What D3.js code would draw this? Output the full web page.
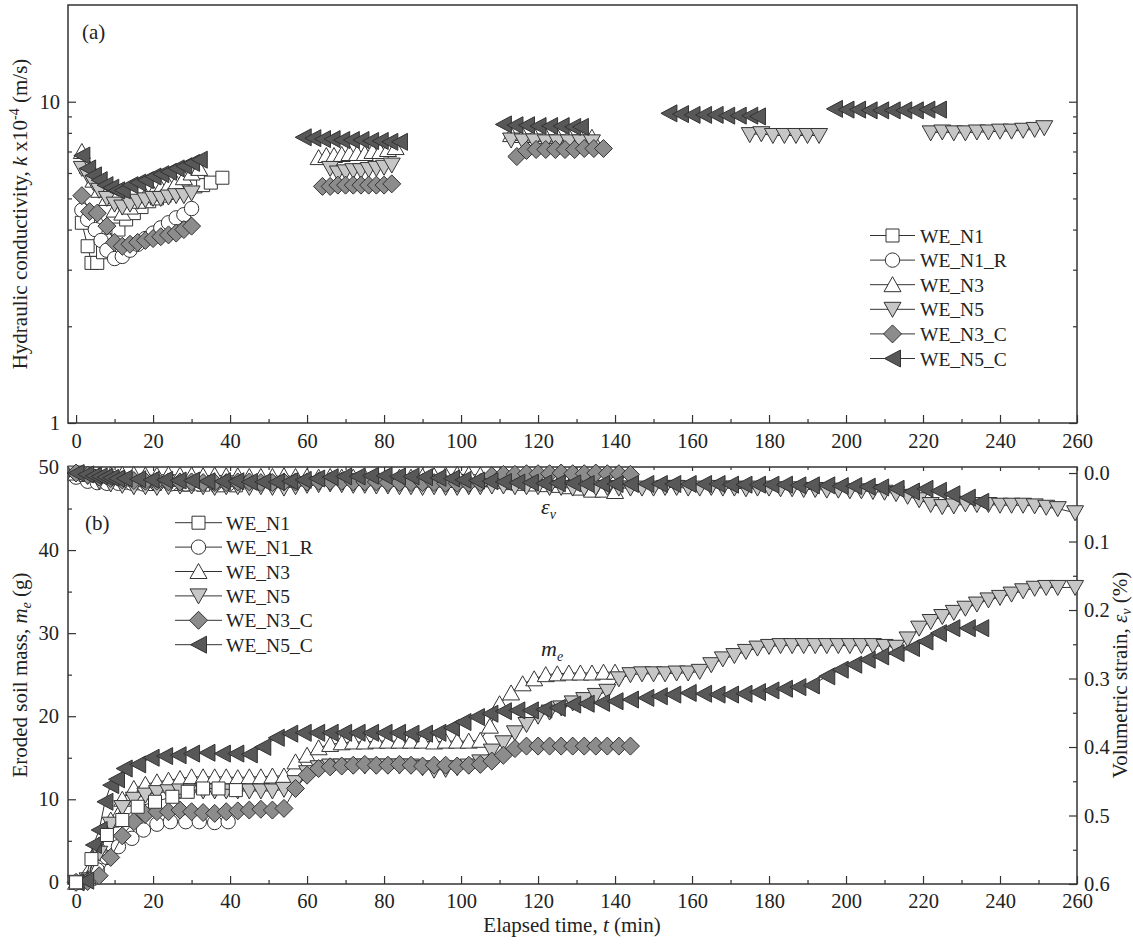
<!DOCTYPE html>
<html><head><meta charset="utf-8">
<script src="https://cdn.jsdelivr.net/npm/d3@7"></script>
<style>
body{margin:0;background:#fff}
svg{display:block}
text{font-family:"Liberation Serif","Times New Roman",serif;fill:#222}
</style>
</head><body>
<script>
// ---------------- DATA ----------------
const seriesNames = ["WE_N1","WE_N1_R","WE_N3","WE_N5","WE_N3_C","WE_N5_C"];
const xTickValues = [0,20,40,60,80,100,120,140,160,180,200,220,240,260];
const kTickLabels = [1,10];
const mTickValues = [0,10,20,30,40,50];
const eTickValues = [0,0.1,0.2,0.3,0.4,0.5,0.6];

// (a) hydraulic conductivity, k x10^-4 m/s
const kN1_t  = [1.5,3,4,5.5,7,9,11,13,15,17,19,21,23,25,27,29,31,33,35,38];
const kN1_v  = [4.2,3.55,3.15,3.15,3.4,3.7,4.0,4.3,4.5,4.7,4.9,5.0,5.1,5.2,5.3,5.4,5.45,5.5,5.6,5.8];
const kN1R_t = [1.5,3,5,6.5,8,10,12,14,16,18,20,22,24,26,28,30];
const kN1R_v = [4.6,4.3,4.0,3.7,3.45,3.25,3.3,3.45,3.6,3.75,3.9,4.05,4.2,4.35,4.45,4.65];
const kN3_t  = [1.5,3,4.5,6,8,10,12,14,16,18,20,22,24,26,28,30,32, 63,65,67,69,71,73,75,77,79,81,83, 113,116,119,122,125,128,131,134];
const kN3_v  = [7.0,6.3,5.7,5.3,5.0,4.6,4.5,4.7,4.9,5.1,5.2,5.4,5.5,5.6,5.8,6.0,6.2, 6.7,6.8,6.8,6.85,6.9,6.9,6.9,7.0,7.0,7.1,7.2, 7.9,7.85,7.85,7.8,7.8,7.8,7.75,7.75];
const kN5_t  = [1.5,3,4.5,6,8,10,12,14,16,18,20,22,24,26,28,30, 66,68,70,72,74,76,78,80,82, 113,116,119,122,125,128,131,134, 175,178,181,184,187,190,193, 222,225,228,231,234,237,240,243,246,249,251.5];
const kN5_v  = [6.2,5.9,5.6,5.3,5.0,4.8,4.7,4.8,4.9,4.95,5.0,5.0,5.05,5.1,5.1,5.2, 6.2,6.0,6.05,6.1,6.1,6.15,6.2,6.25,6.35, 7.6,7.55,7.55,7.5,7.5,7.5,7.5,7.5, 7.9,7.95,7.85,7.85,7.85,7.85,7.85, 8.0,8.05,8.0,8.0,8.05,8.05,8.1,8.1,8.15,8.2,8.3];
const kN3C_t = [1.5,3.5,5.5,8,10,12,14,16,18,20,22,24,26,28,30, 64,66,68,70,72,74,76,78,80,82, 114.5,117,119.5,122,124.5,127,129.5,132,134.5,137];
const kN3C_v = [5.1,4.55,4.5,4.1,3.65,3.55,3.6,3.65,3.7,3.75,3.8,3.85,3.9,4.0,4.1, 5.45,5.45,5.5,5.5,5.5,5.5,5.5,5.5,5.5,5.55, 6.75,7.05,7.1,7.1,7.1,7.1,7.1,7.15,7.15,7.15];
const kN5C_t = [1.5,3,4.5,6,7.5,9,10.5,12,14,16,18,20,22,24,26,28,30,32, 59,61.5,64,66.5,69,71.5,74,76.5,79,81.5,84, 111,114,117,120,123,126,129,131, 154,157,160,163,166,169,172,175,177, 197,200,203,206,209,212,215,218,221,224];
const kN5C_v = [6.8,6.2,5.9,5.7,5.5,5.4,5.3,5.3,5.5,5.6,5.7,5.85,5.95,6.05,6.2,6.3,6.45,6.6, 7.75,7.7,7.65,7.65,7.6,7.6,7.6,7.55,7.55,7.5,7.5, 8.5,8.45,8.45,8.4,8.4,8.4,8.35,8.35, 9.2,9.15,9.1,9.1,9.1,9.05,9.05,9.05,9.0, 9.5,9.45,9.45,9.4,9.4,9.4,9.4,9.4,9.45,9.45];

// (b) eroded soil mass m_e (g) and volumetric strain e_v (%)
const bN1_t  = [0,4,8,12,16,20.5,25,29,33,37,41.5];
const bN1_m  = [0,2.8,5.7,7.5,9.1,9.7,10.3,10.9,11.3,11.3,11.1];
const bN1_e  = [0.002,0.008,0.012,0.014,0.015,0.016,0.016,0.017,0.017,0.018,0.018];
const bN1R_t = [0,3,5.5,8,11,14.5,17.5,21,24.5,28.5,32,36,39.5];
const bN1R_m = [0,0.3,1.5,3.0,4.3,5.3,6.3,7.0,7.3,7.3,7.3,7.2,7.3];
const bN1R_e = [0.006,0.012,0.014,0.015,0.015,0.015,0.016,0.016,0.016,0.016,0.016,0.016,0.016];
const bN3_t  = [0,3,6,9,12,15,18,21,24,27,30,33,36,39,42,45,48,51,54,57,60,63,66,69,72,75,78,81,84,87,90,93,96,99,102,105,107.5,110,113,116,119,122,125,128,131,134,137,140];
const bN3_m  = [0,0.5,4.5,7.5,10.0,11.3,11.8,12.1,12.3,12.5,12.7,12.7,12.7,12.7,12.6,12.7,12.7,12.8,12.8,14.5,15.3,16.2,16.6,16.8,16.9,16.9,17.0,17.0,17.0,17.0,17.0,16.9,17.0,17.0,17.0,17.1,18.8,21.5,22.8,23.9,24.5,25.0,25.1,25.2,25.2,25.2,25.3,25.3];
const bN3_e  = [0,0.002,0.003,0.003,0.002,0.002,0.003,0.003,0.002,0.003,0.003,0.004,0.003,0.004,0.004,0.005,0.005,0.005,0.004,0.005,0.005,0.006,0.005,0.006,0.006,0.006,0.005,0.006,0.006,0.006,0.005,0.004,0.003,0.002,0.002,0.003,0.01,0.012,0.014,0.015,0.016,0.017,0.018,0.02,0.022,0.025,0.025,0.027];
const bN5_t  = [0,3,6,9,12,15,18,21,24,27,30,33,36,39,42,45,48,51,54,57,60,63,66,69,72,75,78,81,84,87,90,93,96,99,102,105,108,111,114,117,120,123,126,129,132,135,138,141,144,147,150,153,156,159,162,165,168,171,174,177,180,183,186,189,192,195,198,201,204,207,210,213,216,219,222,225,228,231,234,237,240,243,246,249,252,255,259.5];
const bN5_m  = [0,0.3,3.5,7.0,9.0,10.0,10.5,10.8,10.9,11.0, 11.0,11.0,11.0,11.0,11.0,11.0,11.0,11.0,11.2,12.0, 13.2,13.8,14.0,14.0,14.0,14.0,14.0,14.0,14.0,14.0, 13.8,13.5,13.6,13.8,14.0,14.5,15.8,16.8,18.0,19.0, 20.0,20.5,21.0,21.6,22.0,22.5,23.0,24.5,25.0,25.1, 25.1,25.1,25.2,25.2,25.4,26.2,26.9,27.3,27.8,28.2, 28.4,28.5,28.5,28.5,28.5,28.5,28.5,28.5,28.5,28.5, 28.4,28.3,29.3,30.6,31.4,32.0,32.5,33.0,33.5,34.0, 34.3,34.7,35.1,35.4,35.5,35.5,35.5];
const bN5_e  = [0.0,0.005,0.012,0.016,0.018,0.02,0.02,0.021,0.02,0.019, 0.019,0.02,0.021,0.02,0.02,0.021,0.02,0.021,0.022,0.02, 0.018,0.017,0.016,0.017,0.018,0.018,0.019,0.019,0.02,0.02, 0.021,0.02,0.021,0.021,0.02,0.02,0.019,0.019,0.02,0.02, 0.02,0.021,0.021,0.022,0.022,0.021,0.021,0.022,0.022,0.022, 0.022,0.021,0.021,0.022,0.022,0.021,0.022,0.022,0.023,0.022, 0.022,0.023,0.023,0.024,0.024,0.025,0.025,0.026,0.026,0.027, 0.028,0.03,0.034,0.039,0.046,0.049,0.048,0.045,0.046,0.046, 0.047,0.047,0.047,0.048,0.05,0.052,0.058];
const bN3C_t = [0,3,6,9,12,15,18,21,24,27,30,33,36,39,42,45,48,51,54,57,60,63,66,69,72,75,78,81,84,87,90,93,96,99,102,105,108,111,114,117,120,123,126,129,132,135,138,141,144];
const bN3C_m = [0,0.1,0.8,3.0,5.6,7.3,8.2,8.5,8.5,8.7, 8.5,8.4,8.3,8.5,8.6,8.7,8.8,8.7,8.9,11.3, 12.9,13.7,13.9,14.0,14.1,14.2,14.1,14.1,14.2,14.1, 14.0,14.1,14.1,14.0,14.1,14.2,14.6,15.3,16.1,16.4, 16.4,16.4,16.4,16.4,16.4,16.4,16.4,16.4,16.4];
const bN3C_e = [0.0,0.003,0.006,0.008,0.01,0.011,0.012,0.012,0.013,0.013, 0.013,0.014,0.014,0.014,0.013,0.013,0.014,0.014,0.013,0.013, 0.013,0.012,0.012,0.012,0.013,0.013,0.013,0.014,0.014,0.014, 0.014,0.014,0.015,0.015,0.015,0.014,0.004,0.002,0.002,0.001, 0.001,0.001,0.0,0.001,0.001,0.0,0.001,0.001,0.002];
const bN5C_t = [0,2.5,4.5,6,7.5,9,10.5,12.5,16,19.5,23,26.5,30,34,38,41.5,45,48.5,52,55.5,59,62.5,66,69.5,73,76.5,80,83.5,87,90.5,94,97.5,100.5,104,107.5,111,114.5,118,121.5,125,129,132.5,136.5,140,144,148,151.5,155,159,163,166.5,170,173.5,177,180.5,184,187.5,191,195,198.5,202,205.5,209,213,217,220.5,224,227.5,231.5,235];
const bN5C_m = [0,0.2,4.5,6.3,9.7,11.7,12.4,13.7, 14.2,15.0,15.2,15.3,15.5,15.6,15.5,15.5,15.4,16.3, 17.4,17.9,18.0,18.0,18.0,18.0,18.0,18.0,18.0,18.0, 17.9,17.9,18.0,18.6,19.3,19.9,20.3,20.6,20.7,20.7, 20.8,21.0,21.4,21.5,21.6,21.8,22.0,22.2,22.4,22.6, 22.8,22.7,22.6,22.6,22.7,22.9,23.1,23.3,23.5,23.7, 24.8,25.6,26.2,26.8,27.2,27.6,28.2,29.0,30.0,30.6, 30.6,30.6];
const bN5C_e = [0.0,0.002,0.004,0.005,0.006,0.007,0.008,0.008, 0.009,0.01,0.01,0.011,0.011,0.012,0.012,0.012,0.013,0.013, 0.013,0.012,0.01,0.008,0.006,0.005,0.005,0.004,0.004,0.005, 0.005,0.006,0.007,0.008,0.01,0.011,0.012,0.013,0.014,0.014, 0.015,0.015,0.015,0.016,0.016,0.016,0.016,0.016,0.016,0.016, 0.016,0.016,0.016,0.017,0.017,0.017,0.017,0.017,0.018,0.018, 0.018,0.019,0.019,0.02,0.021,0.023,0.027,0.023,0.026,0.031, 0.036,0.042];

// ---------------- STYLE ----------------
const styles = {
  "WE_N1":  {shape:"square",  fill:"#ffffff"},
  "WE_N1_R":{shape:"circle",  fill:"#ffffff"},
  "WE_N3":  {shape:"up",      fill:"#ffffff"},
  "WE_N5":  {shape:"down",    fill:"#c6c6c6"},
  "WE_N3_C":{shape:"diamond", fill:"#8c8c8c"},
  "WE_N5_C":{shape:"left",    fill:"#585858"}
};
function shapePath(s){
  switch(s){
    case "square": return "M-6.5,-6.5H6.5V6.5H-6.5Z";
    case "circle": return "M7.2,0A7.2,7.2 0 1 1 -7.2,0A7.2,7.2 0 1 1 7.2,0Z";
    case "up": return "M0,-8L8.5,7L-8.5,7Z";
    case "down": return "M0,8L8.5,-7L-8.5,-7Z";
    case "diamond": return "M0,-9L9,0L0,9L-9,0Z";
    case "left": return "M-8,0L8,-8.5L8,8.5Z";
  }
}
const FT=20.5, FTITLE=21, FLEG=19.5;

const W=1133,H=945;
const svg=d3.select("body").append("svg").attr("width",W).attr("height",H);

const x=d3.scaleLinear().domain([-2.1,260]).range([68,1077]);
const yK=d3.scaleLog().domain([1,20]).range([423,5]);
const yM=d3.scaleLinear().domain([-0.2,50]).range([884,467]);
const yE=d3.scaleLinear().domain([-0.0088,0.6]).range([467,884]);

const AX="#333";
function styleAxis(g){
  g.select(".domain").remove();
  g.selectAll(".tick line").attr("stroke",AX).attr("stroke-width",1.2);
  g.selectAll(".tick text").attr("font-size",FT).attr("fill","#222")
    .style("font-family","'Liberation Serif','Times New Roman',serif");
}

// ---- Panel (a) axes ----
const xMinor = d3.range(10,260,20);
svg.append("g").attr("transform","translate(0,423)")
  .call(d3.axisBottom(x).tickValues(xTickValues).tickSize(-8).tickPadding(10).tickFormat(d3.format("d"))).call(styleAxis);
svg.append("g").attr("transform","translate(0,423)")
  .call(d3.axisBottom(x).tickValues(xMinor).tickSize(-4).tickFormat("")).call(styleAxis);
svg.append("g").attr("transform","translate(68,0)")
  .call(d3.axisLeft(yK).tickValues(kTickLabels).tickSize(-8).tickPadding(8).tickFormat(d3.format("d"))).call(styleAxis);
const kMinor=[2,3,4,5,6,7,8,9];
svg.append("g").attr("transform","translate(68,0)")
  .call(d3.axisLeft(yK).tickValues(kMinor).tickSize(-4).tickFormat("")).call(styleAxis);
svg.append("g").attr("transform","translate(1077,0)")
  .call(d3.axisRight(yK).tickValues(kTickLabels).tickSize(-8).tickFormat("")).call(styleAxis);
svg.append("g").attr("transform","translate(1077,0)")
  .call(d3.axisRight(yK).tickValues(kMinor).tickSize(-4).tickFormat("")).call(styleAxis);
svg.append("rect").attr("x",68).attr("y",5).attr("width",1009).attr("height",418)
  .attr("fill","none").attr("stroke",AX).attr("stroke-width",1.5);

// ---- Panel (b) axes ----
svg.append("g").attr("transform","translate(0,884)")
  .call(d3.axisBottom(x).tickValues(xTickValues).tickSize(-8).tickPadding(9).tickFormat(d3.format("d"))).call(styleAxis);
svg.append("g").attr("transform","translate(0,884)")
  .call(d3.axisBottom(x).tickValues(xMinor).tickSize(-4).tickFormat("")).call(styleAxis);
svg.append("g").attr("transform","translate(0,467)")
  .call(d3.axisTop(x).tickValues(xTickValues).tickSize(-4).tickFormat("")).call(styleAxis);
svg.append("g").attr("transform","translate(0,467)")
  .call(d3.axisTop(x).tickValues(xMinor).tickSize(-3).tickFormat("")).call(styleAxis);
svg.append("g").attr("transform","translate(68,0)")
  .call(d3.axisLeft(yM).tickValues(mTickValues).tickSize(-8).tickPadding(9).tickFormat(d3.format("d"))).call(styleAxis);
svg.append("g").attr("transform","translate(68,0)")
  .call(d3.axisLeft(yM).tickValues([5,15,25,35,45]).tickSize(-4).tickFormat("")).call(styleAxis);
svg.append("g").attr("transform","translate(1077,0)")
  .call(d3.axisRight(yE).tickValues(eTickValues).tickSize(-8).tickPadding(7).tickFormat(d3.format(".1f"))).call(styleAxis);
svg.append("g").attr("transform","translate(1077,0)")
  .call(d3.axisRight(yE).tickValues([0.05,0.15,0.25,0.35,0.45,0.55]).tickSize(-4).tickFormat("")).call(styleAxis);
svg.append("rect").attr("x",68).attr("y",467).attr("width",1009).attr("height",417)
  .attr("fill","none").attr("stroke",AX).attr("stroke-width",1.5);

// ---- draw series ----
function drawSeries(g, name, ts, vs, yScale, gap){
  const st=styles[name];
  const pts=ts.map((t,i)=>[t,vs[i]]);
  const segs=[]; let cur=[];
  pts.forEach((p,i)=>{ if(i>0 && p[0]-pts[i-1][0]>gap){segs.push(cur);cur=[];} cur.push(p); });
  segs.push(cur);
  const line=d3.line().x(d=>x(d[0])).y(d=>yScale(d[1]));
  segs.forEach(s=>g.append("path").attr("d",line(s)).attr("fill","none").attr("stroke","#333").attr("stroke-width",1));
  g.selectAll(null).data(pts).enter().append("path")
    .attr("d",shapePath(st.shape))
    .attr("transform",d=>`translate(${x(d[0])},${yScale(d[1])})`)
    .attr("fill",st.fill).attr("stroke","#333").attr("stroke-width",1);
}

const gA=svg.append("g");
const kData={
  "WE_N1":[kN1_t,kN1_v],"WE_N1_R":[kN1R_t,kN1R_v],"WE_N3":[kN3_t,kN3_v],
  "WE_N5":[kN5_t,kN5_v],"WE_N3_C":[kN3C_t,kN3C_v],"WE_N5_C":[kN5C_t,kN5C_v]
};
seriesNames.forEach(n=>drawSeries(gA.append("g"),n,kData[n][0],kData[n][1],yK,12));

const gB=svg.append("g");
const bData={
  "WE_N1":[bN1_t,bN1_m,bN1_e],"WE_N1_R":[bN1R_t,bN1R_m,bN1R_e],"WE_N3":[bN3_t,bN3_m,bN3_e],
  "WE_N5":[bN5_t,bN5_m,bN5_e],"WE_N3_C":[bN3C_t,bN3C_m,bN3C_e],"WE_N5_C":[bN5C_t,bN5C_m,bN5C_e]
};
["WE_N1_R","WE_N3","WE_N5","WE_N3_C","WE_N5_C","WE_N1"].forEach(n=>drawSeries(gB.append("g"),n,bData[n][0],bData[n][1],yM,1000));
seriesNames.forEach(n=>drawSeries(gB.append("g"),n,bData[n][0],bData[n][2],yE,1000));

// ---- legends ----
function legend(x1,x2,xt,y0,dy){
  seriesNames.forEach((n,i)=>{
    const y=y0+i*dy;
    svg.append("line").attr("x1",x1).attr("x2",x2).attr("y1",y).attr("y2",y).attr("stroke","#333").attr("stroke-width",1);
    svg.append("path").attr("d",shapePath(styles[n].shape)).attr("transform",`translate(${(x1+x2)/2},${y})`)
      .attr("fill",styles[n].fill).attr("stroke","#333").attr("stroke-width",1);
    svg.append("text").attr("x",xt).attr("y",y+7).attr("font-size",FLEG).text(n);
  });
}
legend(870,915,920,235.5,24.6);
legend(175,222,226,522.7,24.4);

// ---- labels ----
svg.append("text").attr("x",82).attr("y",39).attr("font-size",FTITLE).text("(a)");
svg.append("text").attr("x",85).attr("y",530).attr("font-size",FTITLE).text("(b)");

const t1=svg.append("text").attr("transform","translate(27,214) rotate(-90)").attr("text-anchor","middle").attr("font-size",FTITLE);
t1.append("tspan").text("Hydraulic conductivity, ");
t1.append("tspan").attr("font-style","italic").text("k");
t1.append("tspan").text(" x10");
t1.append("tspan").attr("font-size",14).attr("dy",-8).text("-4");
t1.append("tspan").attr("dy",8).text(" (m/s)");

const t2=svg.append("text").attr("transform","translate(27,675) rotate(-90)").attr("text-anchor","middle").attr("font-size",FTITLE);
t2.append("tspan").text("Eroded soil mass, ");
t2.append("tspan").attr("font-style","italic").text("m");
t2.append("tspan").attr("font-style","italic").attr("font-size",14).attr("dy",4).text("e");
t2.append("tspan").attr("dy",-4).text(" (g)");

const t3=svg.append("text").attr("transform","translate(1127,675) rotate(-90)").attr("text-anchor","middle").attr("font-size",FTITLE);
t3.append("tspan").text("Volumetric strain, ");
t3.append("tspan").attr("font-style","italic").text("ε");
t3.append("tspan").attr("font-style","italic").attr("font-size",14).attr("dy",4).text("v");
t3.append("tspan").attr("dy",-4).text(" (%)");

const t4=svg.append("text").attr("x",572).attr("y",932).attr("text-anchor","middle").attr("font-size",FTITLE);
t4.append("tspan").text("Elapsed time, ");
t4.append("tspan").attr("font-style","italic").text("t");
t4.append("tspan").text(" (min)");

const a1=svg.append("text").attr("x",541).attr("y",514).attr("font-size",22).attr("font-style","italic");
a1.append("tspan").text("ε");
a1.append("tspan").attr("font-size",14).attr("dy",5).text("v");
const a2=svg.append("text").attr("x",541).attr("y",656).attr("font-size",22).attr("font-style","italic");
a2.append("tspan").text("m");
a2.append("tspan").attr("font-size",14).attr("dy",5).text("e");
</script>
</body></html>
